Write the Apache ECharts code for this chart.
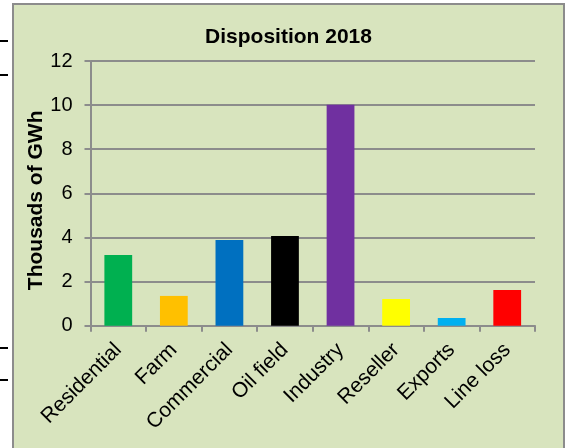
<!DOCTYPE html>
<html>
<head>
<meta charset="utf-8">
<style>
  html, body { margin: 0; padding: 0; background: #ffffff; }
  #chart { width: 566px; height: 448px; }
</style>
<script src="https://cdn.jsdelivr.net/npm/echarts@6/dist/echarts.min.js"></script>
</head>
<body>
<div id="chart"></div>
<script>
const categories = ['Residential', 'Farm', 'Commercial', 'Oil field', 'Industry', 'Reseller', 'Exports', 'Line loss'];
const values = [3.2, 1.35, 3.88, 4.07, 10.02, 1.21, 0.35, 1.62];
const barColors = ['#00B050', '#FFC000', '#0070C0', '#000000', '#7030A0', '#FFFF00', '#00B0F0', '#FF0000'];
const yTicks = { min: 0, max: 12, interval: 2 };
const titleText = 'Disposition 2018';
const yName = 'Thousads of GWh';

const chart = echarts.init(document.getElementById('chart'), null, { renderer: 'canvas' });
const gray = '#8c8c8c';
const font = '"Liberation Sans", Arial, sans-serif';

chart.setOption({
  backgroundColor: '#ffffff',
  animation: false,
  graphic: [
    { type: 'rect', z: -10, silent: true,
      shape: { x: 13, y: 4, width: 551, height: 460 },
      style: { fill: '#D8E4BE', stroke: gray, lineWidth: 2 } },
    { type: 'line', silent: true, shape: { x1: 0, y1: 41, x2: 8, y2: 41 }, style: { stroke: '#000', lineWidth: 2 } },
    { type: 'line', silent: true, shape: { x1: 0, y1: 75, x2: 8, y2: 75 }, style: { stroke: '#000', lineWidth: 2 } },
    { type: 'line', silent: true, shape: { x1: 0, y1: 348, x2: 8, y2: 348 }, style: { stroke: '#000', lineWidth: 2 } },
    { type: 'line', silent: true, shape: { x1: 0, y1: 380, x2: 8, y2: 380 }, style: { stroke: '#000', lineWidth: 2 } }
  ],
  title: {
    text: titleText,
    left: 283.5,
    textAlign: 'center',
    top: 22,
    textStyle: { fontFamily: font, fontSize: 21, fontWeight: 'bold', color: '#000' }
  },
  grid: { left: 90.5, right: 31, top: 61, bottom: 122.3, containLabel: false },
  xAxis: {
    type: 'category',
    data: categories,
    axisLine: { lineStyle: { color: gray, width: 2 } },
    axisTick: { show: true, length: 6, lineStyle: { color: gray, width: 2 } },
    axisLabel: { rotate: 45, margin: 21, fontFamily: font, fontSize: 21, color: '#000', interval: 0 },
    splitLine: { show: false }
  },
  yAxis: {
    type: 'value',
    min: yTicks.min, max: yTicks.max, interval: yTicks.interval,
    name: yName,
    nameLocation: 'middle',
    nameGap: 44,
    nameMoveOverlap: false,
    nameTextStyle: { fontFamily: font, fontSize: 21, fontWeight: 'bold', color: '#000', padding: [0, 14, 0, 0] },
    axisLine: { show: true, lineStyle: { color: gray, width: 2 } },
    axisTick: { show: true, length: 6, lineStyle: { color: gray, width: 2 } },
    axisLabel: { margin: 18, fontFamily: font, fontSize: 20, color: '#000' },
    splitLine: { show: true, lineStyle: { color: gray, width: 2 } }
  },
  series: [{
    type: 'bar',
    barWidth: '50%',
    data: values.map((v, i) => ({ value: v, itemStyle: { color: barColors[i] } }))
  }]
});
</script>
</body>
</html>
